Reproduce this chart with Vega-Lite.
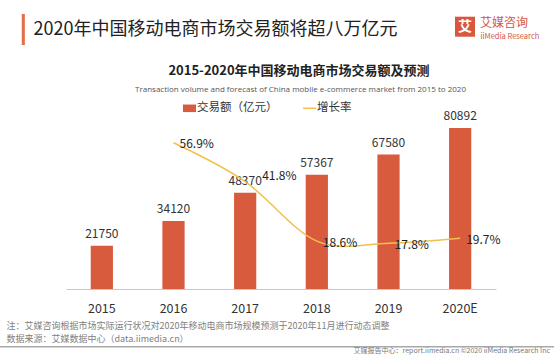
{
  "$schema": "https://vega.github.io/schema/vega-lite/v6.json",
  "width": 430,
  "height": 199,
  "autosize": {"type": "none"},
  "padding": {"left": 66, "top": 90, "right": 58, "bottom": 71},
  "background": "white",
  "config": {
    "view": {"stroke": null},
    "font": "Noto Sans CJK SC",
    "legend": {"orient": "none", "title": null, "padding": 0, "symbolStrokeWidth": 0, "labelFont": "Noto Sans CJK SC", "labelLimit": 600}
  },
  "datasets": {
    "main": [
      {"year": "2015", "value": 21750, "growth": null},
      {"year": "2016", "value": 34120, "growth": 0.569},
      {"year": "2017", "value": 48370, "growth": 0.418},
      {"year": "2018", "value": 57367, "growth": 0.186},
      {"year": "2019", "value": 67580, "growth": 0.178},
      {"year": "2020E", "value": 80892, "growth": 0.197}
    ]
  },
  "resolve": {"scale": {"y": "independent", "shape": "independent"}, "axis": {"x": "independent"}},
  "layer": [
    {
      "data": {"name": "main"},
      "encoding": {
        "x": {
          "field": "year", "type": "ordinal", "sort": null,
          "scale": {"paddingInner": 0.69, "paddingOuter": 0.345},
          "axis": {
            "domain": true, "domainColor": "#C8C8C8", "domainWidth": 1, "ticks": false, "tickSize": 0,
            "labelAngle": 0, "labelFontSize": 12.5, "labelColor": "#333333", "labelPadding": 13, "labelFont": "Noto Sans CJK SC",
            "title": ["注：艾媒咨询根据市场实际运行状况对2020年移动电商市场规模预测于2020年11月进行动态调整", "数据来源：艾媒数据中心（data.iimedia.cn）"],
            "titleX": -60, "titleY": 32.6, "titleAlign": "left", "titleBaseline": "top", "titleAngle": 0,
            "titleFontSize": 9, "titleFontWeight": "normal", "titleColor": "#808080", "titleLineHeight": 12.5, "titleFont": "Noto Sans CJK SC"
          }
        },
        "y": {
          "field": "value", "type": "quantitative",
          "scale": {"domain": [0, 100000], "nice": false},
          "axis": {
            "domain": false, "ticks": false, "labels": false, "grid": false,
            "title": "Transaction volume and forecast of China mobile e-commerce market from 2015 to 2020",
            "titleAngle": 0, "titleX": 234, "titleY": -0.7, "titleAlign": "center", "titleBaseline": "middle",
            "titleFontSize": 8, "titleFontWeight": "normal", "titleColor": "#555555", "titleFont": "Open Sans"
          }
        }
      },
      "layer": [
        {
          "mark": {"type": "bar"},
          "encoding": {
            "color": {
              "datum": "交易额（亿元）",
              "scale": {"range": ["#D75B3C"]},
              "legend": {
                "legendX": 117, "legendY": 11.8, "direction": "horizontal",
                "symbolType": "M-1,-0.58H1V0.58H-1Z", "symbolSize": 169, "symbolStrokeWidth": 0,
                "labelFontSize": 11.5, "labelColor": "#333333", "labelOffset": 1
              }
            }
          }
        },
        {
          "mark": {"type": "text", "baseline": "middle", "dy": -12, "fontSize": 12, "color": "#333333", "font": "Noto Sans CJK SC"},
          "encoding": {
            "text": {"field": "value", "type": "quantitative", "format": "d"}
          }
        }
      ]
    },
    {
      "data": {"name": "main"},
      "transform": [{"filter": "isValid(datum.growth)"}],
      "encoding": {
        "x": {
          "field": "year", "type": "ordinal", "sort": null,
          "axis": {
            "orient": "top", "domain": false, "ticks": false, "labels": false, "grid": false,
            "title": "2015-2020年中国移动电商市场交易额及预测",
            "titleX": 232.5, "titleY": -19.3, "titleAlign": "center", "titleBaseline": "middle", "titleAngle": 0,
            "titleFontSize": 13, "titleFontWeight": "bold", "titleColor": "#222222", "titleFont": "Noto Sans CJK SC"
          }
        },
        "y": {"field": "growth", "type": "quantitative", "scale": {"domain": [0, 0.774], "nice": false}, "axis": null}
      },
      "layer": [
        {
          "mark": {"type": "line", "interpolate": "cardinal", "strokeWidth": 1.5},
          "encoding": {
            "stroke": {
              "datum": "增长率",
              "scale": {"range": ["#F2C14B"]},
              "legend": {
                "legendX": 236, "legendY": 10.8, "direction": "horizontal",
                "symbolType": "stroke", "symbolSize": 169, "symbolStrokeWidth": 1.5,
                "labelFontSize": 11.5, "labelColor": "#333333", "labelOffset": 0
              }
            }
          }
        },
        {
          "transform": [{"filter": "datum.year !== '2017'"}],
          "mark": {"type": "text", "align": "left", "baseline": "middle", "dx": 6, "dy": 1.5, "fontSize": 12, "color": "#222222", "font": "Noto Sans CJK SC"},
          "encoding": {
            "text": {"field": "growth", "type": "quantitative", "format": ".1%"}
          }
        },
        {
          "transform": [{"filter": "datum.year === '2017'"}],
          "mark": {"type": "text", "align": "left", "baseline": "middle", "dx": 17, "dy": -6, "fontSize": 12, "color": "#222222", "font": "Noto Sans CJK SC"},
          "encoding": {
            "text": {"field": "growth", "type": "quantitative", "format": ".1%"}
          }
        }
      ]
    },
    {
      "data": {"values": []},
      "mark": {"type": "point", "filled": true, "color": "#E46F4C", "opacity": 1},
      "encoding": {
        "shape": {
          "datum": "2020年中国移动电商市场交易额将超八万亿元",
          "scale": {"range": ["M-0.1,-1H0.1V1H-0.1Z"]},
          "legend": {
            "legendX": -58.2, "legendY": -76,
            "symbolSize": 961, "symbolFillColor": "#E46F4C", "symbolStrokeWidth": 0,
            "labelFontSize": 18, "labelColor": "#222222", "labelOffset": -5.2
          }
        }
      }
    },
    {
      "data": {"values": []},
      "mark": {"type": "point", "filled": true, "color": "#D9573C", "opacity": 1},
      "encoding": {
        "shape": {
          "datum": "艾媒咨询",
          "scale": {"range": ["square"]},
          "legend": {
            "legendX": 389, "legendY": -73.3,
            "symbolSize": 400, "symbolFillColor": "#D9573C", "symbolStrokeWidth": 0,
            "labelFontSize": 12, "labelColor": "#D4573E", "labelOffset": 5, "labelBaseline": "alphabetic"
          }
        }
      }
    },
    {
      "data": {"values": []},
      "mark": {"type": "point", "filled": true, "color": "#FFFFFF", "opacity": 1},
      "encoding": {
        "shape": {
          "datum": "艾",
          "scale": {"range": ["square"]},
          "legend": {
            "legendX": 378, "legendY": -70.3,
            "symbolSize": 1, "symbolOpacity": 0, "symbolStrokeWidth": 0,
            "labelFontSize": 14, "labelFontWeight": "bold", "labelColor": "#FFFFFF", "labelOffset": 0
          }
        }
      }
    },
    {
      "data": {"values": []},
      "mark": {"type": "point", "filled": true, "color": "#D4573E", "opacity": 1},
      "encoding": {
        "shape": {
          "datum": "iiMedia Research",
          "scale": {"range": ["square"]},
          "legend": {
            "legendX": 407, "legendY": -57,
            "symbolSize": 1, "symbolOpacity": 0, "symbolStrokeWidth": 0,
            "labelFontSize": 7.5, "labelColor": "#D4573E", "labelOffset": 0
          }
        }
      }
    },
    {
      "data": {"values": []},
      "mark": {"type": "point", "filled": true, "color": "#A8A8A8", "opacity": 1},
      "encoding": {
        "shape": {
          "datum": "艾媒报告中心：report.iimedia.cn  ©2020  iiMedia Research Inc",
          "scale": {"range": ["M-1,-0.0025H1V0.0025H-1Z"]},
          "legend": {
            "legendX": -66, "legendY": -20.3,
            "symbolSize": 306916, "symbolFillColor": "#A8A8A8", "symbolStrokeWidth": 0,
            "labelFontSize": 7, "labelColor": "#777777", "labelOffset": -4, "labelAlign": "right", "labelBaseline": "top"
          }
        }
      }
    }
  ]
}
